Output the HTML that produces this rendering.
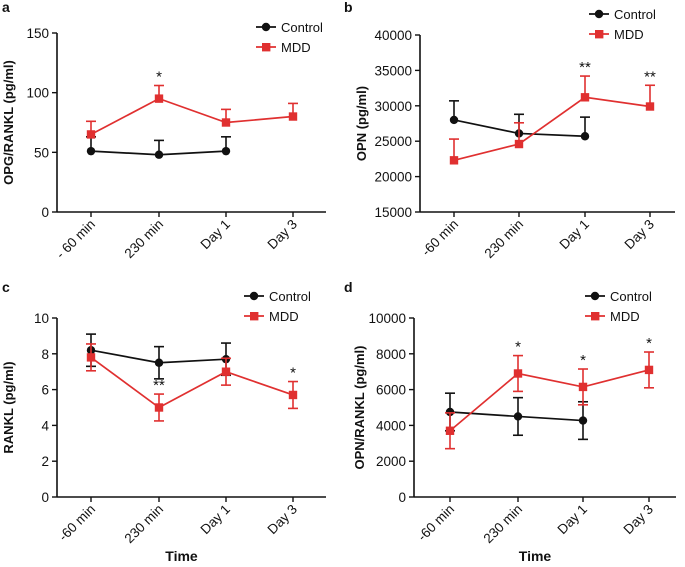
<!DOCTYPE html>
<html><head><meta charset="utf-8"><style>
body{margin:0;background:#fff;}
svg{display:block;font-family:"Liberation Sans",Arial,sans-serif;}
</style></head><body>
<svg id="chart" width="685" height="567" viewBox="0 0 685 567"></svg>
<script>
const categories = ["-60 min","230 min","Day 1","Day 3"];
const catsA = ["- 60 min","230 min","Day 1","Day 3"];
const aControl = [51,48,51];
const aControlErr = [12,12,12];
const aMDD = [65,95,75,80];
const aMDDErr = [11,11,11,11];
const aStars = ["","*","",""];
const aTicks = [0,50,100,150];
const bControl = [28000,26100,25700];
const bControlErr = [2700,2700,2700];
const bMDD = [22300,24600,31200,29900];
const bMDDErr = [3000,3000,3000,3000];
const bStars = ["","","**","**"];
const bTicks = [15000,20000,25000,30000,35000,40000];
const cControl = [8.2,7.5,7.7];
const cControlErr = [0.9,0.9,0.9];
const cMDD = [7.8,5.0,7.0,5.7];
const cMDDErr = [0.75,0.75,0.75,0.75];
const cStars = ["","**","","*"];
const cTicks = [0,2,4,6,8,10];
const dControl = [4750,4500,4270];
const dControlErr = [1050,1050,1050];
const dMDD = [3700,6900,6150,7100];
const dMDDErr = [1000,1000,1000,1000];
const dStars = ["","*","*","*"];
const dTicks = [0,2000,4000,6000,8000,10000];

const NS="http://www.w3.org/2000/svg";
const svg=document.getElementById('chart');
function mk(tag,attrs,parent,name){const e=document.createElementNS(NS,tag);for(const k in attrs)e.setAttribute(k,attrs[k]);


(parent||svg).appendChild(e);return e;}
function txt(x,y,s,parent,name,extra){const t=mk('text',Object.assign({x:x,y:y,'font-size':13,fill:'#111'},extra||{}),parent,name);t.textContent=s;return t;}

function panel(o){
  const g=mk('g',{},svg,'panel-'+o.letter);
  const ymin=o.ticks[0],ymax=o.ticks[o.ticks.length-1];
  const ys=v=>o.y0-(v-ymin)/(ymax-ymin)*(o.y0-o.y1);
  const xs=i=>o.cx[i];
  txt(o.lx,o.ly,o.letter,g,'panel-letter',{'font-weight':'bold','font-size':14});
  mk('line',{x1:o.ax,y1:o.y1,x2:o.ax,y2:o.y0+0.5,stroke:'#111','stroke-width':1.6},g,'y-axis');
  mk('line',{x1:o.ax,y1:o.y0,x2:o.axEnd,y2:o.y0,stroke:'#111','stroke-width':1.6},g,'x-axis');
  o.ticks.forEach(t=>{const y=ys(t);
    mk('line',{x1:o.ax-5,y1:y,x2:o.ax,y2:y,stroke:'#111','stroke-width':1.4},g,'y-tick');
    txt(o.ax-8,y+5,String(t),g,'y-tick-label',{'text-anchor':'end','font-size':13.5});});
  o.cats.forEach((c,i)=>{const x=xs(i);
    mk('line',{x1:x,y1:o.y0,x2:x,y2:o.y0+5,stroke:'#111','stroke-width':1.4},g,'x-tick');
    txt(x+5,o.y0+13,c,g,'x-tick-label',{'text-anchor':'end','font-size':13.5,transform:`rotate(-45 ${x+5} ${o.y0+13})`});});
  const ty=(o.y0+o.y1)/2;
  txt(o.ax-o.tOff,ty,o.ytitle,g,'y-axis-title',{'text-anchor':'middle','font-weight':'bold','font-size':13,transform:`rotate(-90 ${o.ax-o.tOff} ${ty})`});
  if(o.xtitle) txt((o.ax+o.axEnd)/2-10,o.y0+64,'Time',g,'x-axis-title',{'text-anchor':'middle','font-weight':'bold','font-size':14});
  function series(vals,errs,color,marker,lowerAll,name){
    const sg=mk('g',{},g,name);
    vals.forEach((v,i)=>{const x=xs(i);const top=ys(v+errs[i]);const bot=lowerAll?ys(v-errs[i]):ys(v);
      mk('line',{x1:x,y1:top,x2:x,y2:bot,stroke:color,'stroke-width':1.6},sg,'error-bar');
      mk('line',{x1:x-5,y1:top,x2:x+5,y2:top,stroke:color,'stroke-width':1.6},sg,'error-cap');
      if(lowerAll) mk('line',{x1:x-5,y1:bot,x2:x+5,y2:bot,stroke:color,'stroke-width':1.6},sg,'error-cap');});
    mk('polyline',{points:vals.map((v,i)=>xs(i)+','+ys(v)).join(' '),fill:'none',stroke:color,'stroke-width':1.7},sg,'line');
    vals.forEach((v,i)=>{const x=xs(i),y=ys(v);
      if(marker==='c')mk('circle',{cx:x,cy:y,r:4.2,fill:color},sg,'point');
      else mk('rect',{x:x-4.2,y:y-4.2,width:8.4,height:8.4,fill:color},sg,'point');});
  }
  series(o.ctrl,o.ctrlErr,'#111','c',o.lower,'control-series');
  series(o.mdd,o.mddErr,'#e03030','s',o.lower,'mdd-series');
  o.stars.forEach((s,i)=>{if(s)txt(xs(i),ys(o.mdd[i]+o.mddErr[i])-4,s,g,'significance-marker',{'text-anchor':'middle','font-size':15});});
  const lg=mk('g',{},g,'legend');
  mk('line',{x1:o.legX,y1:o.legY,x2:o.legX+20,y2:o.legY,stroke:'#111','stroke-width':1.7},lg,'legend-control-line');
  mk('circle',{cx:o.legX+10,cy:o.legY,r:4.2,fill:'#111'},lg,'legend-control-marker');
  txt(o.legX+25,o.legY+5,'Control',lg,'legend-control-label',{'font-size':13});
  mk('line',{x1:o.legX,y1:o.legY+20,x2:o.legX+20,y2:o.legY+20,stroke:'#e03030','stroke-width':1.7},lg,'legend-mdd-line');
  mk('rect',{x:o.legX+6,y:o.legY+16,width:8.4,height:8.4,fill:'#e03030'},lg,'legend-mdd-marker');
  txt(o.legX+25,o.legY+25,'MDD',lg,'legend-mdd-label',{'font-size':13});
}
panel({letter:'a',lx:2,ly:12,ax:57,axEnd:326,y0:212,y1:33,cx:[91,159,226,293],cats:catsA,ticks:aTicks,ytitle:'OPG/RANKL (pg/ml)',tOff:44,
  ctrl:aControl,ctrlErr:aControlErr,mdd:aMDD,mddErr:aMDDErr,stars:aStars,lower:false,legX:256,legY:27,xtitle:false});
panel({letter:'b',lx:344,ly:12,ax:420,axEnd:675,y0:212,y1:35,cx:[454,519,585,650],cats:categories,ticks:bTicks,ytitle:'OPN (pg/ml)',tOff:54,
  ctrl:bControl,ctrlErr:bControlErr,mdd:bMDD,mddErr:bMDDErr,stars:bStars,lower:false,legX:589,legY:14,xtitle:false});
panel({letter:'c',lx:2,ly:292,ax:57,axEnd:326,y0:497,y1:318,cx:[91,159,226,293],cats:categories,ticks:cTicks,ytitle:'RANKL (pg/ml)',tOff:44,
  ctrl:cControl,ctrlErr:cControlErr,mdd:cMDD,mddErr:cMDDErr,stars:cStars,lower:true,legX:244,legY:296,xtitle:true});
panel({letter:'d',lx:344,ly:292,ax:414,axEnd:676,y0:497,y1:318,cx:[450,518,583,649],cats:categories,ticks:dTicks,ytitle:'OPN/RANKL (pg/ml)',tOff:50,
  ctrl:dControl,ctrlErr:dControlErr,mdd:dMDD,mddErr:dMDDErr,stars:dStars,lower:true,legX:585,legY:296,xtitle:true});
</script>
</body></html>
